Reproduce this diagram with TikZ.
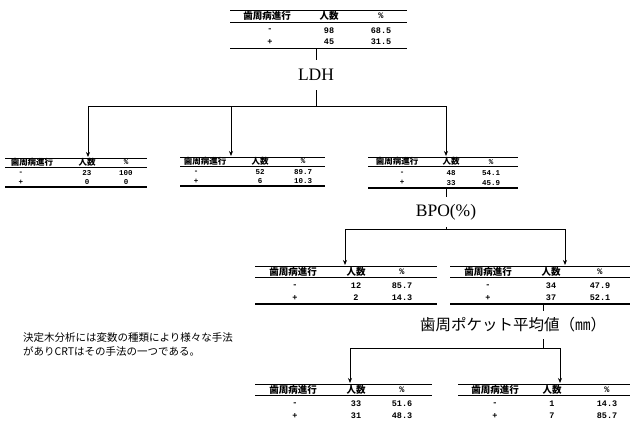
\documentclass[tikz,border=0pt]{standalone}
\usepackage{fontspec}
\setmainfont{Liberation Serif}
\newfontfamily\cjk{Noto Sans CJK JP}
\newfontfamily\monof{Liberation Mono}
\usetikzlibrary{arrows.meta}

\tikzset{
 hdr/.style={font=\cjk\bfseries\fontsize{9.5}{10}\selectfont, inner sep=0pt},
 val/.style={font=\monof\bfseries\fontsize{8.5}{9}\selectfont, inner sep=0pt},
 tblbox/.style={inner sep=0pt, outer sep=0pt, draw=none},
 rule/.style={line width=0.8pt},
 thickrule/.style={line width=1.6pt},
 conn/.style={line width=0.8pt},
 arr/.style={conn, -{Stealth[length=5pt,width=4pt]}},
 split/.style={font=\fontsize{17.5}{18}\selectfont, inner sep=0pt, minimum height=30pt},
 jlabel/.style={font=\cjk\fontsize{15.5}{16}\selectfont, inner sep=0pt, minimum height=28pt},
 note/.style={font=\cjk\fontsize{10.5}{14}\selectfont, inner sep=0pt, align=left, anchor=west},
}

% #1 name, #2 left, #3 right, #4 top, #5 height, #6 col1 x, #7 sign x, #8 col2 x, #9 col3 x
\newcommand\ptab[9]{%
 \node[tblbox, minimum width={(#3-#2)*1pt}, minimum height={(#5)*1pt}] (#1) at ({(#2+#3)/2},{#4+#5/2}) {};
 \draw[rule] (#1.north west) -- (#1.north east);
 \draw[rule] (#2,{#4+0.31*#5}) -- (#3,{#4+0.31*#5});
 \node[hdr] (#1-h1) at (#6,{#4+0.15*#5}) {歯周病進行};
 \node[hdr] (#1-h2) at (#8,{#4+0.15*#5}) {人数};
 \node[val] (#1-h3) at (#9,{#4+0.15*#5}) {\%};
 \node[val] (#1-s1) at (#7,{#4+0.53*#5}) {-};
 \node[val] (#1-s2) at (#7,{#4+0.83*#5}) {+};
 \coordinate (#1-a) at (#8,{#4+0.53*#5});
 \coordinate (#1-b) at (#9,{#4+0.53*#5});
 \coordinate (#1-c) at (#8,{#4+0.83*#5});
 \coordinate (#1-d) at (#9,{#4+0.83*#5});
}
\newcommand\pvals[5]{%
 \node[val] (#1-va) at (#1-a) {#2};
 \node[val] (#1-vb) at (#1-b) {#3};
 \node[val] (#1-vc) at (#1-c) {#4};
 \node[val] (#1-vd) at (#1-d) {#5};
}
\newcommand\pbottom[1]{\draw[thickrule] (#1.south west) -- (#1.south east);}

\begin{document}
\begin{tikzpicture}[x=1pt,y=-1pt]
\useasboundingbox[fill=white] (0,0) rectangle (630,423);

% root table
\ptab{t0}{230}{407}{10}{38.5}{267}{270}{329}{381}
\pvals{t0}{98}{68.5}{45}{31.5}
\pbottom{t0}

% level 1 (compact)
\begin{scope}[hdr/.append style={font=\cjk\bfseries\fontsize{8.5}{9}\selectfont},
              val/.append style={font=\monof\bfseries\fontsize{7.5}{8}\selectfont}]
\ptab{t1}{5}{147}{158}{29}{32}{21}{87}{126}
\pvals{t1}{23}{100}{0}{0}
\pbottom{t1}
\ptab{t2}{180}{325}{157}{29}{205}{196}{260}{303}
\pvals{t2}{52}{89.7}{6}{10.3}
\pbottom{t2}
\ptab{t3}{368}{518}{157}{31}{397}{402}{451}{491}
\pvals{t3}{48}{54.1}{33}{45.9}
\pbottom{t3}
\end{scope}

% level 2
\ptab{t4}{255}{437}{266}{38}{293}{295}{356}{402}
\pvals{t4}{12}{85.7}{2}{14.3}
\pbottom{t4}
\ptab{t5}{450}{630}{266}{38}{488}{488}{551}{600}
\pvals{t5}{34}{47.9}{37}{52.1}
\pbottom{t5}

% level 3
\ptab{t6}{255}{432}{384}{38}{293}{295}{356}{402}
\pvals{t6}{33}{51.6}{31}{48.3}
\ptab{t7}{458}{630}{384}{38}{495}{495}{552}{607}
\pvals{t7}{1}{14.3}{7}{85.7}

% split labels
\node[split] (ldh) at (316,75) {LDH};
\node[split] (bpo) at (446,212) {BPO(\%)};
\node[jlabel] (pock) at (513,325) {歯周ポケット平均値（㎜）};

% junctions and arrow targets
\coordinate (j1) at (316,106);
\coordinate (j2) at (446,229);
\coordinate (j3) at (543,348);
\coordinate (t1in) at (88,157);
\coordinate (t2in) at (231,156);
\coordinate (t3in) at (446,156);
\coordinate (t4in) at (345,265);
\coordinate (t5in) at (565,265);
\coordinate (t6in) at (350,383);
\coordinate (t7in) at (560,383);

% connectors
\draw[conn] (ldh.north |- t0.south) -- (ldh.north);
\draw[conn] (ldh.south) -- (j1);
\draw[arr] (j1) -| (t1in);
\draw[arr] (j1) -| (t2in);
\draw[arr] (j1) -| (t3in);

\draw[conn] (bpo.north |- t3.south) -- (bpo.north);
\draw[conn] (bpo.south) -- (j2);
\draw[arr] (j2) -| (t4in);
\draw[arr] (j2) -| (t5in);

\draw[conn] (j3 |- t5.south) -- (j3 |- pock.north);
\draw[conn] (j3 |- pock.south) -- (j3);
\draw[arr] (j3) -| (t6in);
\draw[arr] (j3) -| (t7in);

% note
\node[note] (notetext) at (23,345) {決定木分析には変数の種類により様々な手法\\がありCRTはその手法の一つである。};
\end{tikzpicture}
\end{document}
